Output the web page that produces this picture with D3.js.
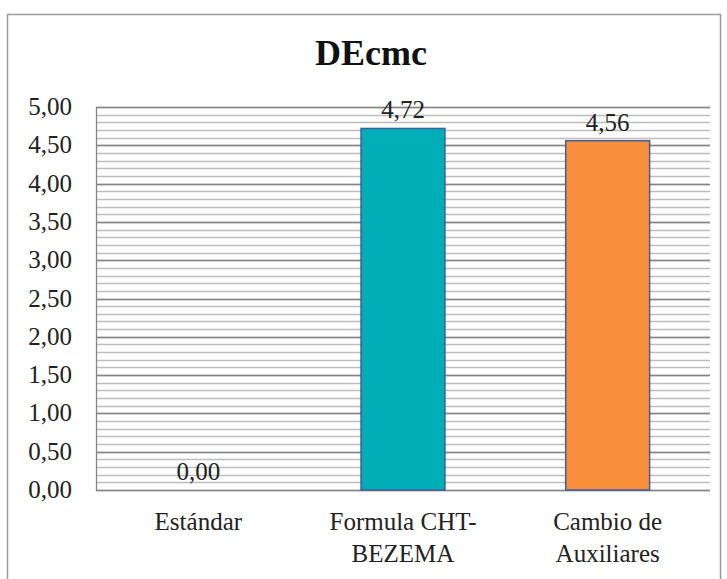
<!DOCTYPE html>
<html>
<head>
<meta charset="utf-8">
<script src="https://cdn.jsdelivr.net/npm/d3@7"></script>
<style>
  html, body { margin: 0; padding: 0; background: #fff; }
  svg { display: block; }
</style>
</head>
<body>
<svg id="chart" width="727" height="579"></svg>
<script>
// DEcmc per process
const categories = [["Estándar"], ["Formula CHT-", "BEZEMA"], ["Cambio de", "Auxiliares"]];
const values = [0.00, 4.72, 4.56];
const barColors = ["#00AEB7", "#00AEB7", "#F98E3B"];
const majorTicks = [0, 0.5, 1, 1.5, 2, 2.5, 3, 3.5, 4, 4.5, 5];
const title = "DEcmc";

const FONT = "'Liberation Serif', 'Times New Roman', 'DejaVu Serif', 'Noto Serif', 'Noto Serif CJK SC', serif";
const fmt = v => d3.format(".2f")(v).replace(".", ",");

const svg = d3.select("#chart");
const plot = { left: 96, right: 710, top: 107, bottom: 490 };

// outer frame (bottom edge runs off the page)
svg.append("rect")
  .attr("x", 7.5).attr("y", 14.5)
  .attr("width", 713).attr("height", 600)
  .attr("fill", "#fff").attr("stroke", "#9a9a9a").attr("stroke-width", 1.5);

svg.append("text")
  .attr("x", 371).attr("y", 65)
  .attr("text-anchor", "middle")
  .style("font-family", FONT)
  .attr("font-size", 36).attr("font-weight", "bold")
  .attr("fill", "#111")
  .text(title);

const x = d3.scaleBand()
  .domain(d3.range(categories.length))
  .range([plot.left, plot.right])
  .paddingInner(0.59).paddingOuter(0.295);

const y = d3.scaleLinear().domain([0, 5]).range([plot.bottom, plot.top]);

// minor gridlines every 0.1
const minor = d3.range(0, 51).map(i => i / 10);
svg.append("g").selectAll("line").data(minor).join("line")
  .attr("x1", plot.left).attr("x2", plot.right)
  .attr("y1", d => Math.round(y(d)) + 0.5).attr("y2", d => Math.round(y(d)) + 0.5)
  .attr("stroke", "#bdbdbd").attr("stroke-width", 1.3);

// major gridlines every 0.5
svg.append("g").selectAll("line").data(majorTicks).join("line")
  .attr("x1", plot.left).attr("x2", plot.right)
  .attr("y1", d => Math.round(y(d)) + 0.5).attr("y2", d => Math.round(y(d)) + 0.5)
  .attr("stroke", "#858585").attr("stroke-width", 1.3);

// plot area left edge
svg.append("line")
  .attr("x1", plot.left + 0.5).attr("x2", plot.left + 0.5)
  .attr("y1", plot.top).attr("y2", plot.bottom + 1)
  .attr("stroke", "#858585").attr("stroke-width", 1.3);

// y axis labels
const yAxis = d3.axisLeft(y).tickValues(majorTicks).tickFormat(fmt).tickSize(0).tickPadding(24);
const yg = svg.append("g").attr("transform", `translate(${plot.left},0)`).call(yAxis);
yg.select(".domain").remove();
yg.attr("font-family", null).attr("font-size", null);
yg.selectAll("text")
  .style("font-family", FONT).attr("font-size", 25).attr("fill", "#222")
  .attr("dy", "0.3em");

// bars
svg.append("g").selectAll("rect").data(values).join("rect")
  .attr("x", (d, i) => x(i))
  .attr("width", x.bandwidth())
  .attr("y", d => y(d))
  .attr("height", d => y(0) - y(d))
  .attr("fill", (d, i) => barColors[i])
  .attr("stroke", "#3f5e9c").attr("stroke-width", d => d > 0 ? 1.5 : 0);

// value labels
svg.append("g").selectAll("text").data(values).join("text")
  .attr("x", (d, i) => x(i) + x.bandwidth() / 2)
  .attr("y", d => y(d) - 10)
  .attr("text-anchor", "middle")
  .style("font-family", FONT)
  .attr("font-size", 25).attr("fill", "#222")
  .text(fmt);

// category labels
const cg = svg.append("g").selectAll("text").data(categories).join("text")
  .attr("x", (d, i) => x(i) + x.bandwidth() / 2)
  .attr("y", 530)
  .attr("text-anchor", "middle")
  .style("font-family", FONT)
  .attr("font-size", 25).attr("fill", "#222");
cg.selectAll("tspan").data(d => d).join("tspan")
  .attr("x", function() { return d3.select(this.parentNode).attr("x"); })
  .attr("dy", (d, i) => i === 0 ? 0 : 32)
  .text(d => d);
</script>
</body>
</html>
